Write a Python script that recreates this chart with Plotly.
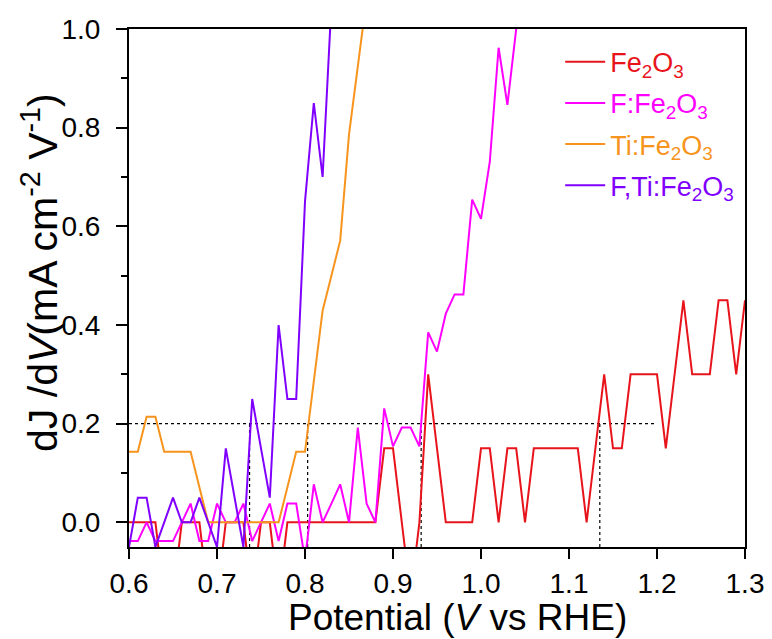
import plotly.graph_objects as go

# Potential grid (V vs RHE)
potential = [0.60, 0.61, 0.62, 0.63, 0.64, 0.65, 0.66, 0.67, 0.68, 0.69,
             0.70, 0.71, 0.72, 0.73, 0.74, 0.75, 0.76, 0.77, 0.78, 0.79,
             0.80, 0.81, 0.82, 0.83, 0.84, 0.85, 0.86, 0.87, 0.88, 0.89,
             0.90, 0.91, 0.92, 0.93, 0.94, 0.95, 0.96, 0.97, 0.98, 0.99,
             1.00, 1.01, 1.02, 1.03, 1.04, 1.05, 1.06, 1.07, 1.08, 1.09,
             1.10, 1.11, 1.12, 1.13, 1.14, 1.15, 1.16, 1.17, 1.18, 1.19,
             1.20, 1.21, 1.22, 1.23, 1.24, 1.25, 1.26, 1.27, 1.28, 1.29,
             1.30]

fe2o3 = [0, 0, 0, 0, -0.15, -0.15, 0, 0, 0, -0.15,
         -0.15, 0, 0, 0, -0.15, 0, 0, -0.15, 0, 0,
         0, 0, 0, 0, 0, 0, 0, 0, 0, 0.15,
         0.15, 0, -0.15, 0, 0.30, 0.15, 0, 0, 0, 0,
         0.15, 0.15, 0, 0.15, 0.15, 0, 0.15, 0.15, 0.15, 0.15,
         0.15, 0.15, 0, 0.15, 0.30, 0.15, 0.15, 0.30, 0.30, 0.30,
         0.30, 0.15, 0.30, 0.45, 0.30, 0.30, 0.30, 0.45, 0.45, 0.30,
         0.45]

f_fe2o3 = [-0.038, -0.038, 0, -0.038, -0.038, -0.038, 0, 0.038, -0.038, -0.038,
           0.038, 0, 0, 0.038, -0.038, 0, 0.038, -0.038, 0.038, 0.038,
           -0.077, 0.077, 0, 0.038, 0.077, 0, 0.192, 0.038, 0, 0.231,
           0.154, 0.192, 0.192, 0.154, 0.385, 0.346, 0.423, 0.462, 0.462, 0.654,
           0.615, 0.731, 0.962, 0.846, 1.0, 1.154]

ti_fe2o3 = [0.143, 0.143, 0.214, 0.214, 0.143, 0.143, 0.143, 0.143, 0.071, 0,
            0, 0, 0, 0, 0, 0, 0, 0, 0.071, 0.143,
            0.143, 0.286, 0.429, 0.5, 0.571, 0.786, 0.929, 1.071, 1.2]

fti_fe2o3 = [-0.05, 0.05, 0.05, -0.05, 0, 0.05, 0, 0, 0.05, 0,
             -0.05, 0.15, 0.05, -0.05, 0.25, 0.15, 0.05, 0.40, 0.25, 0.25,
             0.65, 0.85, 0.70, 1.05, 1.30]

names = ["Fe<sub>2</sub>O<sub>3</sub>", "F:Fe<sub>2</sub>O<sub>3</sub>",
         "Ti:Fe<sub>2</sub>O<sub>3</sub>", "F,Ti:Fe<sub>2</sub>O<sub>3</sub>"]
colors = ["#e8141c", "#ff00ff", "#f7941d", "#7f00ff"]
series = [fe2o3, f_fe2o3, ti_fe2o3, fti_fe2o3]

# Threshold and onset potentials (where dJ/dV reaches 0.2)
threshold = 0.2
threshold_end = 1.2
onset = [1.135, 0.932, 0.803, 0.737]

x_ticks = [0.6, 0.7, 0.8, 0.9, 1.0, 1.1, 1.2, 1.3]
y_ticks = [0.0, 0.2, 0.4, 0.6, 0.8, 1.0]

x_title = "Potential (<i>V</i> vs RHE)"
y_title = "dJ /d<i>V</i>(mA cm<sup>-2</sup> V<sup>-1</sup>)"

FONT = "Liberation Sans, Arial, sans-serif"

fig = go.Figure()

# dotted guide lines
fig.add_trace(go.Scatter(x=[potential[0], threshold_end], y=[threshold, threshold],
                         mode="lines", line=dict(color="black", width=1.2, dash="dot"),
                         showlegend=False, hoverinfo="skip"))
for xo in onset:
    fig.add_trace(go.Scatter(x=[xo, xo], y=[-0.05, threshold], mode="lines",
                             line=dict(color="black", width=1.2, dash="dot"),
                             showlegend=False, hoverinfo="skip"))

for i, (nm, col, ys) in enumerate(zip(names, colors, series)):
    fig.add_trace(go.Scatter(
        x=potential[:len(ys)], y=ys, mode="lines",
        name=f"<span style='color:{col}'>{nm}</span>",
        legendgroup=f"g{i}",
        line=dict(color=col, width=2)))

# page body has an 8px margin: figure is drawn from (8, 8)
fig.update_layout(
    width=764, height=631,
    margin=dict(l=121, r=27, t=21, b=92),
    paper_bgcolor="white", plot_bgcolor="white",
    font=dict(family=FONT, color="black", size=26),
    showlegend=True,
    legend=dict(x=0.70, y=0.983, xanchor="left", yanchor="top",
                bgcolor="rgba(0,0,0,0)", borderwidth=0,
                font=dict(size=27, family=FONT), itemwidth=40,
                tracegroupgap=3),
    annotations=[
        dict(text=x_title, xref="paper", yref="paper", x=0.534, y=-0.137,
             xanchor="center", yanchor="middle", showarrow=False,
             font=dict(size=37, family=FONT, color="black")),
        dict(text=y_title, xref="paper", yref="paper", x=-0.1445, y=0.531,
             xanchor="center", yanchor="middle", showarrow=False, textangle=-90,
             font=dict(size=41, family=FONT, color="black")),
    ],
)
fig.update_xaxes(range=[0.6, 1.3], tickvals=x_ticks,
                 ticktext=[f"{v:.1f}" for v in x_ticks],
                 showline=True, linecolor="black", linewidth=2, mirror=True,
                 ticks="outside", ticklen=10, tickwidth=2, tickcolor="black",
                 showgrid=False, zeroline=False, automargin=False,
                 tickfont=dict(size=28))
fig.update_yaxes(range=[-0.05, 1.0], tickvals=y_ticks,
                 ticktext=[f"{v:.1f}" for v in y_ticks],
                 showline=True, linecolor="black", linewidth=2, mirror=True,
                 ticks="outside", ticklen=11, tickwidth=2, tickcolor="black",
                 ticklabelstandoff=10,
                 minor=dict(dtick=0.1, tick0=0, ticks="outside", ticklen=6,
                            tickwidth=2, tickcolor="black"),
                 showgrid=False, zeroline=False, automargin=False,
                 tickfont=dict(size=28))

fig.write_html("out.html")
